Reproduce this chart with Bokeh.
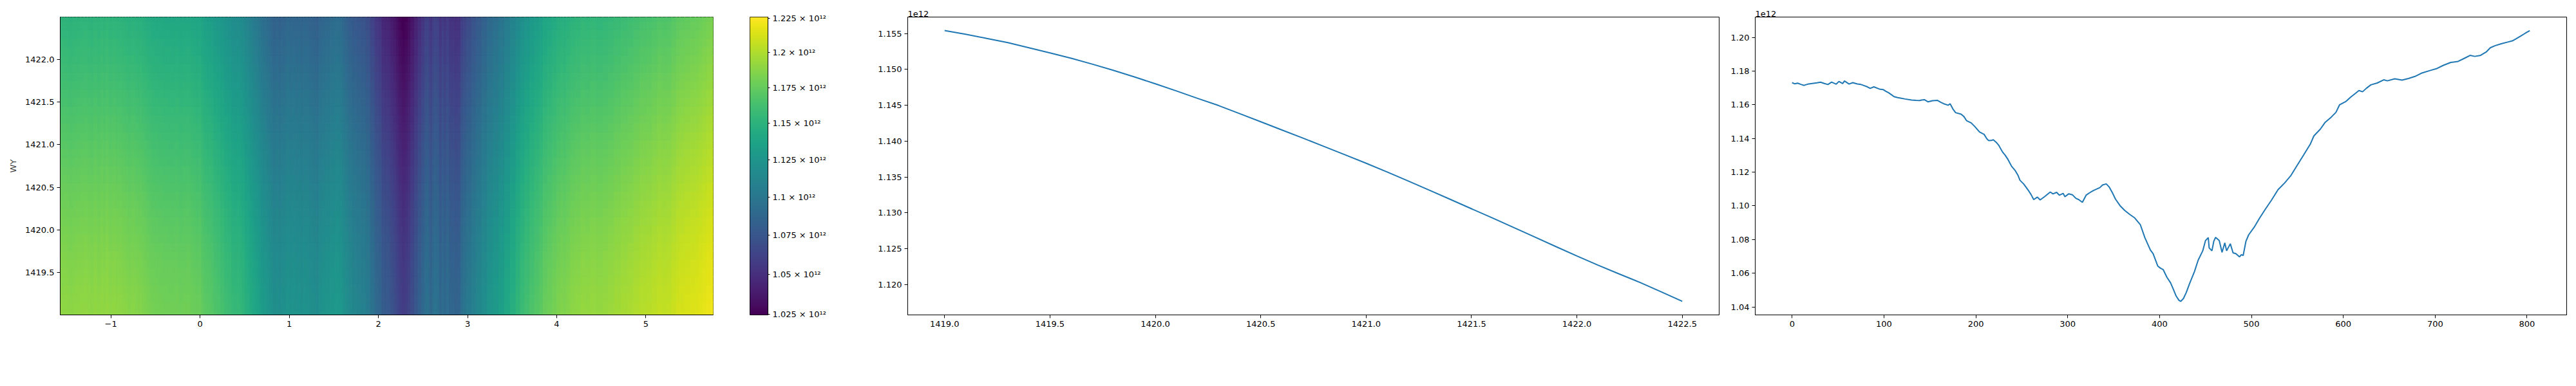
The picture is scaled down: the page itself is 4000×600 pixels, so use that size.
import numpy as np
from bokeh.plotting import figure
from bokeh.layouts import row
from bokeh.models import (Range1d, FixedTicker, PrintfTickFormatter, CustomJSTickFormatter,
                          LogColorMapper, ColumnDataSource)
from bokeh.palettes import Viridis256
from bokeh.embed import file_html
from bokeh.resources import INLINE

# ---------------- data (values in units of 1e12) ----------------
WY = [1419.0, 1419.1, 1419.2, 1419.3, 1419.4, 1419.5, 1419.6, 1419.7, 1419.8, 1419.9,
      1420.0, 1420.1, 1420.2, 1420.3, 1420.4, 1420.5, 1420.6, 1420.7, 1420.8, 1420.9,
      1421.0, 1421.1, 1421.2, 1421.3, 1421.4, 1421.5, 1421.6, 1421.7, 1421.8, 1421.9,
      1422.0, 1422.1, 1422.2, 1422.3, 1422.4, 1422.5]
PROFILE_WY = [1.15542, 1.15490, 1.15433, 1.15374, 1.15303, 1.15230, 1.15157, 1.15075, 1.14988, 1.14897,
              1.14800, 1.14700, 1.14597, 1.14497, 1.14384, 1.14271, 1.14157, 1.14043, 1.13927, 1.13810,
              1.13693, 1.13570, 1.13445, 1.13317, 1.13188, 1.13058, 1.12929, 1.12797, 1.12664, 1.12531,
              1.12400, 1.12272, 1.12150, 1.12030, 1.11900, 1.11767]

PIXEL = [0, 3, 6, 10, 13, 17, 22, 27, 31, 35, 39, 43, 48, 51, 55, 57, 62, 66, 71, 75,
         78, 82, 85, 89, 95, 99, 102, 105, 108, 111, 115, 118, 123, 130, 135, 139, 141, 144, 148, 153,
         158, 162, 165, 170, 172, 175, 178, 184, 187, 190, 195, 199, 204, 209, 212, 214, 217, 219, 222, 225,
         229, 232, 235, 239, 243, 246, 248, 252, 255, 258, 260, 263, 267, 270, 275, 281, 284, 288, 291, 295,
         297, 301, 305, 309, 312, 316, 320, 324, 328, 335, 338, 342, 345, 349, 352, 357, 362, 367, 373, 379,
         384, 390, 393, 398, 401, 404, 408, 412, 415, 418, 421, 423, 426, 429, 433, 438, 442, 447, 450, 453,
         454, 457, 459, 461, 465, 468, 471, 473, 477, 480, 483, 487, 489, 491, 494, 497, 503, 509, 515, 522,
         529, 536, 543, 550, 557, 564, 568, 575, 580, 587, 592, 596, 603, 608, 614, 617, 621, 625, 630, 637,
         644, 648, 656, 664, 671, 678, 685, 695, 702, 709, 717, 725, 732, 738, 743, 749, 756, 760, 765, 772,
         779, 784, 788, 793, 798, 803]
PROFILE_PIXEL = [1.1731, 1.1724, 1.1728, 1.1720, 1.1715, 1.1722, 1.1726, 1.1730, 1.1734, 1.1726,
                 1.1720, 1.1734, 1.1722, 1.1738, 1.1726, 1.1741, 1.1723, 1.1731, 1.1723, 1.1720,
                 1.1714, 1.1706, 1.1697, 1.1706, 1.1693, 1.1690, 1.1680, 1.1671, 1.1660, 1.1648,
                 1.1642, 1.1639, 1.1634, 1.1628, 1.1626, 1.1625, 1.1628, 1.1630, 1.1617, 1.1624,
                 1.1626, 1.1614, 1.1606, 1.1597, 1.1606, 1.1575, 1.1553, 1.1544, 1.1530, 1.1505,
                 1.1492, 1.1470, 1.1438, 1.1424, 1.1398, 1.1387, 1.1388, 1.1392, 1.1378, 1.1359,
                 1.1320, 1.1300, 1.1275, 1.1234, 1.1208, 1.1180, 1.1152, 1.1130, 1.1108, 1.1085,
                 1.1068, 1.1037, 1.1052, 1.1035, 1.1055, 1.1082, 1.1071, 1.1080, 1.1063, 1.1074,
                 1.1054, 1.1071, 1.1066, 1.1044, 1.1037, 1.1021, 1.1063, 1.1078, 1.1091, 1.1108,
                 1.1124, 1.1130, 1.1113, 1.1074, 1.1040, 1.1001, 1.0973, 1.0951, 1.0928, 1.0889,
                 1.0811, 1.0738, 1.0716, 1.0643, 1.0630, 1.0621, 1.0576, 1.0543, 1.0505, 1.0465,
                 1.0440, 1.0433, 1.0450, 1.0485, 1.0543, 1.0610, 1.0677, 1.0733, 1.0794, 1.0811,
                 1.0750, 1.0733, 1.0789, 1.0813, 1.0794, 1.0724, 1.0780, 1.0733, 1.0775, 1.0721,
                 1.0716, 1.0697, 1.0710, 1.0705, 1.0789, 1.0828, 1.0873, 1.0928, 1.0979, 1.1035,
                 1.1096, 1.1135, 1.1180, 1.1242, 1.1303, 1.1365, 1.1415, 1.1455, 1.1494, 1.1527,
                 1.1555, 1.1600, 1.1620, 1.1645, 1.1671, 1.1684, 1.1677, 1.1697, 1.1718, 1.1729,
                 1.1748, 1.1742, 1.1754, 1.1746, 1.1756, 1.1768, 1.1787, 1.1804, 1.1815, 1.1834,
                 1.1851, 1.1857, 1.1876, 1.1893, 1.1887, 1.1892, 1.1915, 1.1938, 1.1950, 1.1962,
                 1.1972, 1.1979, 1.1991, 1.2007, 1.2024, 1.2040]

HEAT_X_EXTENT = [-1.568, 5.755]
HEAT_Y_EXTENT = [1419.0, 1422.5]
CB_LIMITS = [1.0245, 1.2261]

HEAT_X_TICKS = [-1, 0, 1, 2, 3, 4, 5]
HEAT_Y_TICKS = [1419.5, 1420.0, 1420.5, 1421.0, 1421.5, 1422.0]
CB_TICKS = [1.025, 1.05, 1.075, 1.1, 1.125, 1.15, 1.175, 1.2, 1.225]
P2_X_TICKS = [1419.0, 1419.5, 1420.0, 1420.5, 1421.0, 1421.5, 1422.0, 1422.5]
P2_Y_TICKS = [1.120, 1.125, 1.130, 1.135, 1.140, 1.145, 1.150, 1.155]
P3_X_TICKS = [0, 100, 200, 300, 400, 500, 600, 700, 800]
P3_Y_TICKS = [1.04, 1.06, 1.08, 1.10, 1.12, 1.14, 1.16, 1.18, 1.20]

# ---------------- style ----------------
FONT = "DejaVu Sans"
FS = "13px"
LINE_C = "#1f77b4"
TOP, FRAME_H, BOTTOM = 26, 463, 40
H = TOP + FRAME_H + BOTTOM


def style(p):
    p.grid.visible = False
    p.outline_line_color = "black"
    p.outline_line_alpha = 1.0
    p.outline_line_width = 1
    p.background_fill_color = "white"
    p.border_fill_color = "white"
    for ax in p.axis:
        ax.major_label_text_font = FONT
        ax.major_label_text_font_size = FS
        ax.major_label_text_color = "black"
        ax.axis_line_color = "black"
        ax.major_tick_line_color = "black"
        ax.major_tick_out = 5
        ax.major_tick_in = 0
        ax.minor_tick_out = 0
        ax.minor_tick_in = 0
        ax.major_label_standoff = 4


mapper = LogColorMapper(palette=Viridis256, low=CB_LIMITS[0], high=CB_LIMITS[1])

# ---------------- heatmap ----------------
px = np.array(PIXEL, float)
pv = np.array(PROFILE_PIXEL, float)
wy = np.array(WY, float)
wv = np.array(PROFILE_WY, float)
n_samples = px[-1] + 1.0

mid = (px[:-1] + px[1:]) / 2
c_left = np.concatenate([[px[0] - 0.5], mid])
c_right = np.concatenate([mid, [px[-1] + 0.5]])


def to_heat_x(i):
    return HEAT_X_EXTENT[0] + (i + 0.5) / n_samples * (HEAT_X_EXTENT[1] - HEAT_X_EXTENT[0])


ymid = (wy[:-1] + wy[1:]) / 2
r_bot = np.concatenate([[wy[0] - 0.05], ymid])
r_top = np.concatenate([ymid, [wy[-1] + 0.05]])

CL, RB = np.meshgrid(to_heat_x(c_left), r_bot)
CR, RT = np.meshgrid(to_heat_x(c_right), r_top)
ZC, ZR = np.meshgrid(pv, wv / wv.mean())
Z = ZC * ZR

heat_src = ColumnDataSource(dict(left=CL.ravel(), right=CR.ravel(), bottom=RB.ravel(),
                                 top=RT.ravel(), z=Z.ravel()))

hm = figure(width=93 + 1014 + 20, height=H, output_backend="svg", toolbar_location=None,
            x_range=Range1d(*HEAT_X_EXTENT), y_range=Range1d(*HEAT_Y_EXTENT),
            min_border_left=93, min_border_right=20, min_border_top=TOP, min_border_bottom=BOTTOM)
hm.quad(left="left", right="right", bottom="bottom", top="top", source=heat_src,
        fill_color={"field": "z", "transform": mapper},
        line_color={"field": "z", "transform": mapper}, line_width=1)
style(hm)
hm.xaxis.ticker = FixedTicker(ticks=HEAT_X_TICKS)
hm.xaxis.formatter = CustomJSTickFormatter(code="return tick < 0 ? '\u2212' + (-tick) : '' + tick;")
hm.yaxis.ticker = FixedTicker(ticks=HEAT_Y_TICKS)
hm.yaxis.formatter = PrintfTickFormatter(format="%.1f")
hm.yaxis.axis_label = "WY"
hm.yaxis.axis_label_text_font = FONT
hm.yaxis.axis_label_text_font_size = FS
hm.yaxis.axis_label_text_font_style = "normal"
hm.yaxis.axis_label_standoff = 8

# ---------------- colorbar ----------------
cb = figure(width=37 + 28 + 108, height=H, output_backend="svg", toolbar_location=None,
            x_range=Range1d(0, 1), y_range=Range1d(*CB_LIMITS), y_axis_type="log",
            y_axis_location="right",
            min_border_left=37, min_border_right=108, min_border_top=TOP, min_border_bottom=BOTTOM)
grad = np.geomspace(CB_LIMITS[0], CB_LIMITS[1], 256).reshape(256, 1)
cb.image(image=[grad], x=0, y=CB_LIMITS[0], dw=1, dh=CB_LIMITS[1] - CB_LIMITS[0], color_mapper=mapper)
style(cb)
cb.xaxis.visible = False
cb.yaxis.ticker = FixedTicker(ticks=CB_TICKS)
cb.yaxis.formatter = CustomJSTickFormatter(
    code="return parseFloat(tick.toFixed(3)).toString() + ' \u00d7 10\u00b9\u00b2';")
cb.yaxis.major_tick_out = 3
cb.yaxis.major_label_standoff = 4


def margins(lo, hi):
    s = hi - lo
    return Range1d(lo - 0.05 * s, hi + 0.05 * s)


def offset_title(p):
    p.title.text = "1e12"
    p.title.align = "left"
    p.title.text_font = FONT
    p.title.text_font_size = FS
    p.title.text_font_style = "normal"
    p.title.text_color = "black"
    p.title.standoff = 2
    p.title.offset = 0


# ---------------- profile along WY ----------------
p2 = figure(width=109 + 1260 + 5, height=H, output_backend="svg", toolbar_location=None,
            x_range=margins(min(WY), max(WY)), y_range=margins(min(PROFILE_WY), max(PROFILE_WY)),
            min_border_left=109, min_border_right=5, min_border_top=TOP, min_border_bottom=BOTTOM)
p2.line(WY, PROFILE_WY, line_color=LINE_C, line_width=2)
style(p2)
p2.xaxis.ticker = FixedTicker(ticks=P2_X_TICKS)
p2.xaxis.formatter = PrintfTickFormatter(format="%.1f")
p2.yaxis.ticker = FixedTicker(ticks=P2_Y_TICKS)
p2.yaxis.formatter = PrintfTickFormatter(format="%.3f")
offset_title(p2)

# ---------------- profile along pixel ----------------
p3 = figure(width=51 + 1260 + 5, height=H, output_backend="svg", toolbar_location=None,
            x_range=margins(min(PIXEL), max(PIXEL)), y_range=margins(min(PROFILE_PIXEL), max(PROFILE_PIXEL)),
            min_border_left=51, min_border_right=5, min_border_top=TOP, min_border_bottom=BOTTOM)
p3.line(PIXEL, PROFILE_PIXEL, line_color=LINE_C, line_width=2)
style(p3)
p3.xaxis.ticker = FixedTicker(ticks=P3_X_TICKS)
p3.xaxis.formatter = PrintfTickFormatter(format="%d")
p3.yaxis.ticker = FixedTicker(ticks=P3_Y_TICKS)
p3.yaxis.formatter = PrintfTickFormatter(format="%.2f")
offset_title(p3)

layout = row(hm, cb, p2, p3, spacing=0)
open("out.html", "w").write(file_html(layout, INLINE))
